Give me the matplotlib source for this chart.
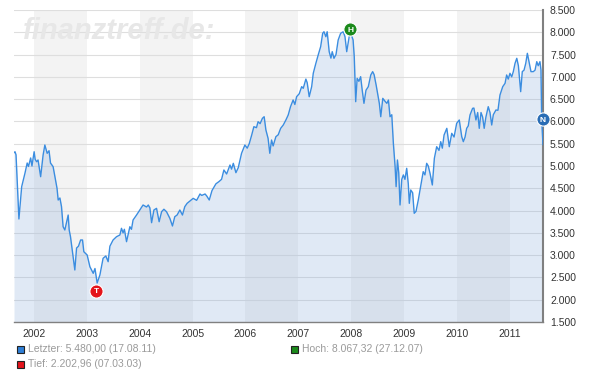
import matplotlib
matplotlib.use("Agg")
import matplotlib.pyplot as plt
from matplotlib.patches import Rectangle
import pandas as pd

plt.rcParams['font.family'] = ['Liberation Sans', 'DejaVu Sans']

# index values (approx.)
dates = [
    "2001-08-17", "2001-08-24", "2001-08-31", "2001-09-07", "2001-09-20", "2001-10-09",
    "2001-11-01", "2001-11-16", "2001-11-25", "2001-12-10", "2001-12-19", "2002-01-03",
    "2002-01-10", "2002-01-20", "2002-01-30", "2002-02-17", "2002-03-06", "2002-03-18",
    "2002-04-03", "2002-04-16", "2002-04-26", "2002-05-14", "2002-05-31", "2002-06-10",
    "2002-06-18", "2002-06-30", "2002-07-11", "2002-07-22", "2002-08-03", "2002-08-26",
    "2002-09-02", "2002-09-11", "2002-09-29", "2002-10-11", "2002-10-23", "2002-11-05",
    "2002-11-20", "2002-12-03", "2002-12-12", "2003-01-04", "2003-01-23", "2003-02-15",
    "2003-02-27", "2003-03-14", "2003-04-02", "2003-04-24", "2003-05-13", "2003-05-29",
    "2003-06-10", "2003-07-02", "2003-07-26", "2003-08-18", "2003-08-29", "2003-09-09",
    "2003-09-18", "2003-10-03", "2003-10-26", "2003-11-06", "2003-11-17", "2003-12-11",
    "2004-01-03", "2004-01-25", "2004-02-18", "2004-03-01", "2004-03-12", "2004-03-24",
    "2004-04-09", "2004-04-27", "2004-05-15", "2004-06-01", "2004-06-17", "2004-07-05",
    "2004-07-28", "2004-08-15", "2004-08-31", "2004-09-16", "2004-10-05", "2004-10-23",
    "2004-11-08", "2004-11-24", "2005-01-05", "2005-01-29", "2005-02-21", "2005-03-05",
    "2005-03-28", "2005-04-08", "2005-04-26", "2005-05-15", "2005-06-11", "2005-07-02",
    "2005-07-20", "2005-08-05", "2005-08-24", "2005-09-16", "2005-09-27", "2005-10-09",
    "2005-10-27", "2005-11-12", "2005-12-05", "2005-12-28", "2006-01-13", "2006-01-27",
    "2006-02-13", "2006-02-28", "2006-03-18", "2006-03-29", "2006-04-12", "2006-04-28",
    "2006-05-10", "2006-05-22", "2006-06-06", "2006-06-18", "2006-06-30", "2006-07-11",
    "2006-07-30", "2006-08-15", "2006-09-01", "2006-09-19", "2006-10-07", "2006-10-23",
    "2006-11-08", "2006-11-26", "2006-12-08", "2006-12-20", "2007-01-07", "2007-01-24",
    "2007-02-04", "2007-02-22", "2007-03-03", "2007-03-17", "2007-04-03", "2007-04-14",
    "2007-05-02", "2007-05-18", "2007-06-04", "2007-06-18", "2007-06-27", "2007-07-10",
    "2007-07-19", "2007-08-02", "2007-08-14", "2007-08-23", "2007-09-04", "2007-09-18",
    "2007-10-03", "2007-10-20", "2007-11-07", "2007-11-19", "2007-12-01", "2007-12-18",
    "2007-12-27", "2008-01-14", "2008-01-22", "2008-02-01", "2008-02-11", "2008-02-23",
    "2008-03-06", "2008-03-17", "2008-03-29", "2008-04-12", "2008-04-28", "2008-05-15",
    "2008-05-28", "2008-06-07", "2008-06-21", "2008-06-30", "2008-07-13", "2008-07-23",
    "2008-08-06", "2008-08-22", "2008-09-03", "2008-09-14", "2008-09-25", "2008-10-07",
    "2008-10-18", "2008-10-30", "2008-11-06", "2008-11-15", "2008-11-24", "2008-12-03",
    "2008-12-15", "2008-12-26", "2009-01-06", "2009-01-18", "2009-01-29", "2009-02-05",
    "2009-02-15", "2009-02-28", "2009-03-11", "2009-03-23", "2009-04-08", "2009-04-24",
    "2009-05-12", "2009-05-24", "2009-06-05", "2009-06-16", "2009-06-28", "2009-07-14",
    "2009-07-28", "2009-08-13", "2009-08-29", "2009-09-10", "2009-09-21", "2009-10-03",
    "2009-10-22", "2009-11-08", "2009-11-25", "2009-12-11", "2009-12-29", "2010-01-16",
    "2010-02-02", "2010-02-13", "2010-02-25", "2010-03-08", "2010-03-19", "2010-03-31",
    "2010-04-18", "2010-04-27", "2010-05-11", "2010-05-23", "2010-06-03", "2010-06-15",
    "2010-06-26", "2010-07-07", "2010-07-19", "2010-08-04", "2010-08-16", "2010-08-28",
    "2010-09-08", "2010-09-26", "2010-10-10", "2010-10-24", "2010-11-12", "2010-11-28",
    "2010-12-09", "2010-12-20", "2011-01-01", "2011-01-13", "2011-01-24", "2011-02-05",
    "2011-02-17", "2011-02-28", "2011-03-16", "2011-03-27", "2011-04-08", "2011-04-20",
    "2011-05-01", "2011-05-15", "2011-05-26", "2011-06-11", "2011-06-23", "2011-07-05",
    "2011-07-15", "2011-07-27", "2011-08-03", "2011-08-08", "2011-08-15", "2011-08-17",
]
values = [
    5300, 5320, 5250, 4750, 3811, 4536,
    4843, 5067, 4990, 5180, 5000, 5320,
    5150, 5096, 5135, 4760, 5247, 5471,
    5285, 5343, 5067, 4985, 4686, 4500,
    4237, 4282, 4087, 3638, 3564, 3900,
    3564, 3414, 2965, 2667, 3160, 3200,
    3340, 3340, 3077, 3003, 2740, 2592,
    2700, 2375, 2554, 2929, 2981, 2853,
    3200, 3340, 3414, 3452, 3602, 3500,
    3580, 3302, 3638, 3580, 3788, 3900,
    4013, 4125, 4080, 4125, 4060, 3728,
    4013, 4050, 3750, 3974, 4030, 3974,
    3826, 3654, 3863, 3900, 4013, 3900,
    4087, 4162, 4274, 4230, 4372, 4340,
    4372, 4330, 4237, 4450, 4600, 4650,
    4701, 4910, 4820, 5022, 4930, 5060,
    4850, 4960, 5285, 5471, 5400, 5500,
    5695, 5882, 5860, 5994, 5950, 6070,
    6106, 5808, 5621, 5285, 5583, 5450,
    5658, 5700, 5845, 5920, 6032, 6144,
    6331, 6481, 6380, 6555, 6620, 6780,
    6743, 6950, 6870, 6555, 6780, 7080,
    7304, 7490, 7677, 7977, 8013, 7900,
    8013, 7565, 7420, 7565, 7416, 7500,
    7827, 7977, 8013, 7900, 7565, 7902,
    8000, 7827, 7453, 6443, 6967, 6900,
    7004, 6700, 6406, 6700, 6780, 7042,
    7117, 7050, 6817, 6650, 6406, 6106,
    6518, 6450, 6406, 6480, 6106, 6150,
    5509, 4985, 4536, 5135, 4850, 4125,
    4700, 4800, 4700, 4948, 4600, 4162,
    4462, 4400, 3939, 3980, 4237, 4536,
    4873, 4800, 5060, 5000, 4836, 4574,
    5172, 5433, 5350, 5546, 5400, 5695,
    5845, 5433, 5733, 5650, 5957, 6032,
    5658, 5546, 5650, 5845, 5900, 6144,
    6294, 6300, 6032, 6200, 5845, 6200,
    6100, 5845, 6100, 6331, 6200, 5920,
    6150, 6256, 6250, 6593, 6780, 6855,
    7042, 6950, 7080, 7000, 7117, 7304,
    7416, 7250, 6668, 7117, 7150, 7304,
    7528, 7300, 7117, 7117, 7150, 7341,
    7250, 7341, 7154, 6032, 5621, 5480,
]

low_date, low_value = "2003-03-07", 2202.96
high_date, high_value = "2007-12-27", 8067.32
last_date, last_value = "2011-08-17", 5480.00
now_marker_value = 6050

years = list(range(2002, 2012))
shaded_years = [2002, 2004, 2006, 2008, 2010]
yticks = list(range(1500, 8501, 500))

legend_texts = ["Letzter: 5.480,00 (17.08.11)",
                "Hoch: 8.067,32 (27.12.07)",
                "Tief: 2.202,96 (07.03.03)"]

x = pd.to_datetime(dates)

fig = plt.figure(figsize=(6, 3.92), dpi=100)
ax = fig.add_axes([14 / 600, 70 / 392, 529 / 600, 312 / 392])

# alternating year bands
for yr in shaded_years:
    ax.axvspan(pd.Timestamp(f"{yr}-01-01"), pd.Timestamp(f"{yr + 1}-01-01"),
               color='#f3f3f3', lw=0, zorder=0)

for yv in yticks:
    ax.axhline(yv, color='#dedede', lw=0.8, zorder=1)

ax.fill_between(x, values, 1500, color='#87abdb', alpha=0.25, lw=0, zorder=2)
ax.plot(x, values, color='#3b8de0', lw=1.0, zorder=3)

ax.set_xlim(x[0], x[-1])
ax.set_ylim(1500, 8500)

ax.yaxis.tick_right()
ax.set_yticks(yticks)
ax.set_yticklabels([f"{v:,}".replace(",", ".") for v in yticks])
ax.set_xticks([pd.Timestamp(f"{yr}-01-01") for yr in years])
ax.set_xticklabels([str(yr) for yr in years])
ax.tick_params(axis='both', length=0, labelsize=7.5, labelcolor='#333333')
ax.tick_params(axis='y', pad=5)
ax.tick_params(axis='x', pad=5)

for s in ['left', 'top']:
    ax.spines[s].set_visible(False)
ax.spines['right'].set_color('#808080')
ax.spines['right'].set_linewidth(1.5)
ax.spines['bottom'].set_color('#808080')
ax.spines['bottom'].set_linewidth(1.0)

# watermark
ax.text(0.017, 0.907, "finanztreff.de:", transform=ax.transAxes, fontsize=21,
        fontweight='bold', fontstyle='italic', color='#e7e7e7', va='baseline',
        zorder=2.5)


def badge(d, v, letter, color):
    ax.plot([pd.Timestamp(d)], [v], marker='o', ms=9.5, mfc=color, mec='white',
            mew=0.8, zorder=5, clip_on=False)
    ax.text(pd.Timestamp(d), v, letter, ha='center', va='center_baseline',
            fontsize=6, fontweight='bold', color='white', zorder=6, clip_on=False)


badge(low_date, low_value, 'T', '#e4141b')
badge(high_date, high_value, 'H', '#1b8a1b')
badge(last_date, now_marker_value, 'N', '#2a6db5')

# legend below the chart
legend_pos = [(17, 349), (291, 349), (17, 364)]
legend_cols = ['#2f7fd6', '#1b8a1b', '#e4141b']
for (px, py), txt, col in zip(legend_pos, legend_texts, legend_cols):
    fig.patches.append(Rectangle((px / 600, (392 - py - 4) / 392), 7 / 600, 7 / 392,
                                 transform=fig.transFigure, facecolor=col,
                                 edgecolor='#222222', lw=0.8))
    fig.text((px + 11) / 600, (392 - py) / 392, txt, fontsize=7.5,
             color='#9a9a9a', va='center')

fig.savefig("out.png", dpi=100)
